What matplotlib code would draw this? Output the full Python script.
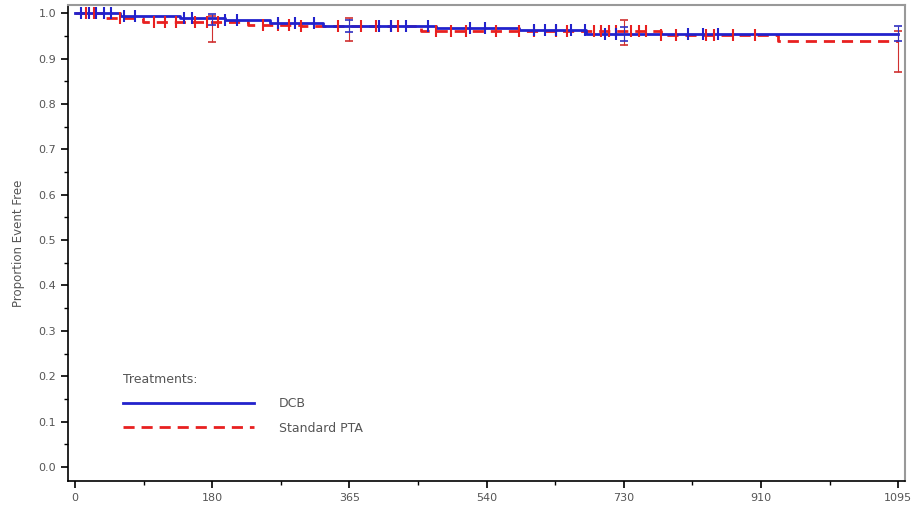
import numpy as np
import matplotlib.pyplot as plt

# Kaplan-Meier step values (day, proportion event free)
dcb_days = [0, 60, 140, 200, 260, 330, 480, 590, 680, 1095]
dcb_surv = [1.0, 0.995, 0.99, 0.985, 0.978, 0.972, 0.968, 0.963, 0.955, 0.955]

pta_days = [0, 40, 90, 230, 300, 460, 600, 780, 935, 1095]
pta_surv = [1.0, 0.99, 0.98, 0.975, 0.972, 0.962, 0.96, 0.952, 0.94, 0.94]

# censoring times
dcb_cens = [8, 18, 28, 38, 48, 65, 80, 145, 155, 200, 215, 270, 293, 318, 405,
            420, 440, 470, 525, 545, 610, 625, 640, 660, 678, 705, 720, 815,
            835, 855]
pta_cens = [15, 25, 60, 105, 120, 135, 160, 175, 190, 250, 270, 285, 300, 350,
            380, 400, 420, 430, 480, 500, 520, 560, 590, 610, 640, 655, 690,
            700, 710, 720, 740, 750, 760, 780, 800, 840, 850, 875, 905]

# confidence intervals at landmark days
ci_days = [182.5, 365, 730, 1095]
dcb_lo = [0.975, 0.958, 0.94, 0.94]
dcb_hi = [0.998, 0.985, 0.97, 0.973]
pta_lo = [0.937, 0.94, 0.93, 0.87]
pta_hi = [0.995, 0.99, 0.985, 0.96]

xticks = [0, 182.5, 365, 547.5, 730, 912.5, 1095]
xlabels = ["0", "180", "365", "540", "730", "910", "1095"]

blue = "#2222cc"
red = "#e82020"
gray = "#555555"


def surv_at(days, surv, t):
    i = np.searchsorted(days, t, side="right") - 1
    return np.asarray(surv)[i]


fig = plt.figure(figsize=(9.15, 5.12), dpi=100)
ax = fig.add_axes([0.0743, 0.0605, 0.9147, 0.9295])

ax.step(dcb_days, dcb_surv, where="post", color=blue, lw=2.0, label="DCB", zorder=4)
ax.step(pta_days, pta_surv, where="post", color=red, lw=2.0, ls=(0, (4, 2.5)),
        label="Standard PTA", zorder=3)

ax.plot(dcb_cens, surv_at(dcb_days, dcb_surv, dcb_cens), ls="none", marker="|",
        ms=8, mew=1.5, color=blue, zorder=5)
ax.plot(pta_cens, surv_at(pta_days, pta_surv, pta_cens), ls="none", marker="|",
        ms=8, mew=1.5, color=red, zorder=4)

for lo, hi, days, surv, c in [(pta_lo, pta_hi, pta_days, pta_surv, "#d03030"),
                              (dcb_lo, dcb_hi, dcb_days, dcb_surv, "#3030c0")]:
    s = surv_at(days, surv, ci_days)
    ax.errorbar(ci_days, s, yerr=[s - np.array(lo), np.array(hi) - s], fmt="none",
                ecolor=c, elinewidth=0.8, capsize=3, capthick=1.2, zorder=6)

ax.set_xlim(-9.3, 1104)
ax.set_ylim(-0.031, 1.018)
ax.set_xticks(xticks)
ax.set_xticklabels(xlabels)
ax.set_xticks(np.arange(91.25, 1095, 182.5), minor=True)
ax.set_yticks(np.arange(0, 1.01, 0.1))
ax.set_yticklabels([f"{v:.1f}" for v in np.arange(0, 1.01, 0.1)])
ax.set_yticks(np.arange(0.05, 1.0, 0.1), minor=True)
ax.tick_params(axis="both", which="major", labelsize=8, labelcolor=gray,
               length=5, width=1.2, direction="out")
ax.tick_params(axis="both", which="minor", length=3, width=1.0, direction="out")
ax.set_ylabel("Proportion Event Free", fontsize=8.5, color=gray, labelpad=10)

for side in ["top", "right"]:
    ax.spines[side].set_color("#999999")
    ax.spines[side].set_linewidth(1.5)
for side in ["left", "bottom"]:
    ax.spines[side].set_color("black")
    ax.spines[side].set_linewidth(1.2)

leg = ax.legend(loc="upper left", bbox_to_anchor=(0.058, 0.24), frameon=False,
                title="Treatments:", fontsize=9, title_fontsize=9,
                handlelength=10.5, handletextpad=2.0, labelspacing=0.9,
                borderpad=0, alignment="left")
for t in leg.get_texts():
    t.set_color(gray)
leg.get_title().set_color(gray)

fig.savefig("out.png", dpi=100)
